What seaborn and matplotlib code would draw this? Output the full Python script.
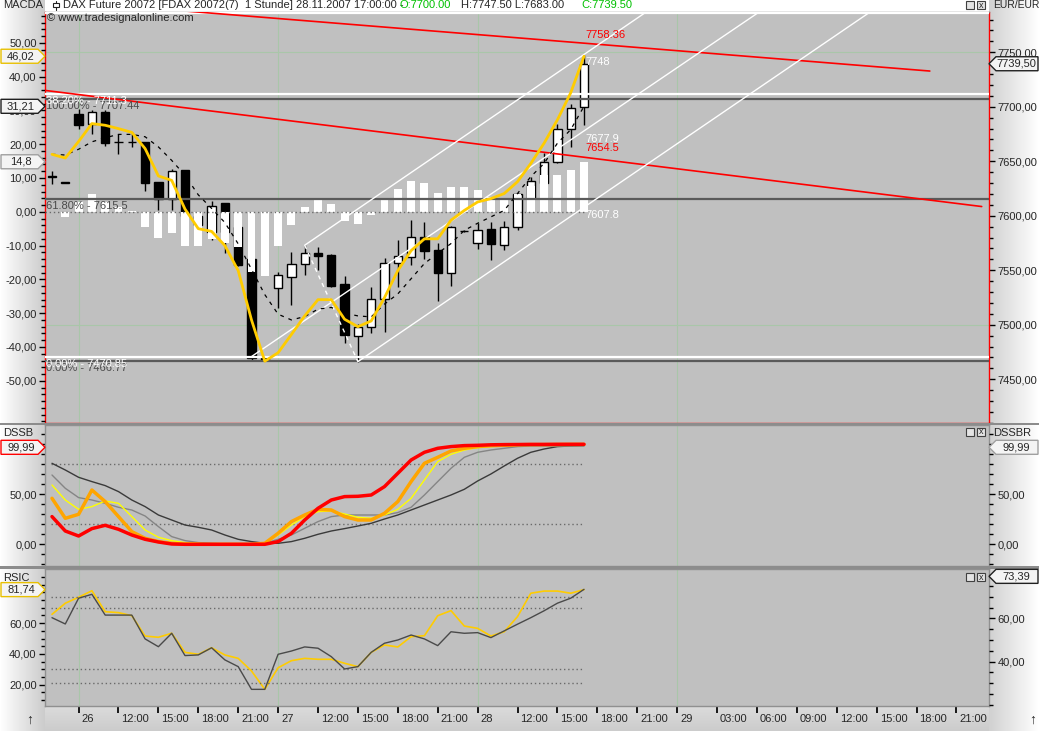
import numpy as np
import matplotlib
matplotlib.use('Agg')
import matplotlib.pyplot as plt
import matplotlib.transforms as mtransforms
from matplotlib.patches import Polygon, Rectangle
import seaborn as sns

sns.set_theme(style='white')
plt.rcParams['font.family'] = ['Liberation Sans', 'DejaVu Sans']

W, H = 1039, 731
BG = '#C0C0C0'

# hourly bars, index 0 = 25.11. 21:00
bars = list(range(41))
opens = [7636, 7630.4, 7693.7, 7684, 7695.2, 7667.7, 7667.7, 7667.7, 7631, 7615.7,
         7641.7, 7600, 7585, 7611.5, 7590, 7560, 7469.3, 7533.5, 7544, 7555.5,
         7566, 7564, 7537.4, 7489.7, 7498.3, 7523.4, 7556.4, 7562.5, 7580.3, 7568.6,
         7547.2, 7586, 7574.8, 7587.6, 7573.2, 7590, 7616, 7630, 7649.6, 7679.4, 7700]
highs = [7641, 7630.4, 7698, 7697, 7697, 7675, 7677, 7668, 7631, 7642.7,
         7642, 7603, 7613.6, 7612, 7592, 7562, 7470, 7548, 7567, 7573,
         7571.7, 7565, 7544.8, 7501, 7534.4, 7561, 7577.8, 7596, 7594, 7574.8,
         7591, 7587, 7593.7, 7594.6, 7595.5, 7621, 7636, 7658, 7684.2, 7702.6, 7747.5]
lows = [7629.5, 7630.4, 7680, 7675.3, 7664, 7657, 7663, 7622.7, 7605, 7605,
        7590, 7585, 7578, 7565.5, 7554, 7467.7, 7466.8, 7515, 7518, 7545.7,
        7550.3, 7535, 7483, 7466.2, 7492.2, 7493.7, 7535, 7554.9, 7560, 7522,
        7535.6, 7585, 7569.8, 7559.5, 7568.6, 7587, 7610, 7626.7, 7648, 7663.4, 7683]
closes = [7636, 7630.4, 7683, 7695.2, 7667, 7667.7, 7667.7, 7630.4, 7615.7, 7640.8,
          7600, 7592, 7609, 7585, 7555, 7469.3, 7467.5, 7545.7, 7555.5, 7565.6,
          7563, 7536, 7490.6, 7497.7, 7523.4, 7556.4, 7563.4, 7580.3, 7568, 7547.2,
          7590, 7586, 7587, 7574, 7590, 7620, 7632, 7649.6, 7679.4, 7698.6, 7739.5]

macd = [17.0, 15.9, 20.8, 26.1, 25.6, 24.6, 23.5, 18.7, 10.6, 9.3,
        0.8, -5.0, -5.8, -10.0, -17.4, -32.0, -44.2, -41.7, -36.3, -30.8,
        -26.0, -26.0, -31.8, -34.0, -32.3, -25.4, -17.4, -11.5, -8.0, -8.0,
        -2.5, 0.4, 2.9, 3.9, 5.4, 8.9, 14.3, 20.3, 27.2, 35.2, 46.02]
signal = [17.0, 16.8, 18.5, 20.7, 21.9, 22.9, 22.9, 22.2, 19.2, 15.2,
          10.8, 5.0, 1.0, -3.2, -9.5, -17.0, -24.5, -30.3, -32.0, -31.0,
          -28.8, -28.3, -30.0, -30.8, -31.1, -27.3, -24.3, -19.8, -15.3, -12.3,
          -9.4, -5.5, -3.4, -1.5, 0.4, 5.4, 10.4, 14.3, 20.3, 24.3, 31.21]
hist = [0.0, -1.5, 3.0, 5.3, 2.9, 1.4, 0.3, -4.5, -7.8, -6.3,
        -10.0, -10.2, -8.0, -9.3, -10.5, -17.7, -19.1, -10.2, -4.0, 1.3,
        3.7, 2.2, -2.7, -3.7, -1.0, 4.1, 6.7, 9.1, 8.5, 5.5,
        7.4, 7.4, 6.4, 4.4, 4.1, 5.2, 7.6, 11.0, 10.9, 12.4, 14.8]

dss_red = [27.7, 13.3, 8.3, 15.7, 19.0, 15.0, 9.3, 5.0, 2.3, 0.3,
           0.0, 0.0, 0.0, 0.0, 0.0, 0.0, 0.0, 2.7, 11.0, 24.3,
           36.0, 44.3, 47.7, 48.0, 49.3, 57.7, 71.0, 84.3, 92.0, 96.0,
           97.7, 98.7, 99.0, 99.5, 99.7, 99.8, 99.9, 99.9, 99.99, 99.99, 99.99]
dss_orange = [46.0, 26.0, 30.0, 54.3, 42.7, 27.7, 12.7, 6.0, 2.7, 1.0,
              0.0, 0.0, 0.0, 0.0, 0.0, 0.0, 1.0, 11.0, 22.7, 29.3,
              35.0, 34.3, 27.7, 24.3, 24.3, 31.0, 42.7, 62.7, 81.0, 87.0,
              93.3, 96.0, 97.7, 98.7, 99.0, 99.5, 99.7, 99.7, 99.8, 99.9, 99.9]
dss_yellow = [59.3, 44.3, 35.0, 37.7, 43.3, 41.0, 27.7, 14.3, 7.0, 3.7,
              1.7, 1.0, 0.0, 0.0, 0.0, 0.0, 1.0, 9.3, 19.3, 27.7,
              32.7, 33.3, 30.3, 27.0, 26.0, 29.3, 35.0, 46.0, 64.3, 82.7,
              90.0, 94.3, 96.7, 97.7, 98.3, 99.0, 99.3, 99.3, 99.3, 99.3, 99.3]
dss_gray = [69.3, 56.0, 46.7, 44.3, 41.0, 37.0, 34.3, 28.3, 17.7, 7.7,
            3.7, 1.7, 1.0, 0.3, 0.3, 0.3, 1.0, 5.0, 9.3, 16.0,
            22.7, 27.7, 29.3, 29.3, 29.3, 29.3, 31.7, 37.0, 49.3, 62.7,
            76.0, 87.0, 92.0, 94.3, 96.0, 97.7, 98.3, 98.3, 98.3, 98.3, 98.3]
dss_dark = [81.0, 74.3, 67.0, 62.7, 58.7, 52.7, 44.3, 37.7, 29.3, 24.3,
            19.3, 17.0, 14.3, 9.3, 5.0, 2.7, 1.0, 1.0, 2.7, 6.0,
            10.0, 13.3, 15.7, 18.3, 21.0, 25.3, 29.3, 34.3, 39.3, 44.3,
            49.3, 55.0, 63.3, 70.3, 78.3, 86.0, 92.0, 95.3, 97.7, 98.3, 98.7]

rsic = [65.7, 72.9, 76.8, 81.0, 67.4, 66.8, 64.8, 51.6, 50.8, 53.4,
        41.0, 39.7, 44.0, 39.3, 37.1, 28.9, 17.0, 31.0, 35.6, 37.1,
        36.5, 36.5, 33.9, 31.7, 41.0, 45.8, 44.5, 51.2, 51.8, 64.8,
        68.1, 58.1, 56.6, 51.6, 54.4, 64.2, 79.4, 80.8, 80.8, 79.4, 81.74]
rsi = [60.3, 57.4, 69.3, 71.1, 61.5, 61.5, 61.5, 50.5, 46.9, 53.1,
       42.8, 43.1, 46.4, 40.8, 37.7, 27.2, 27.2, 43.4, 44.9, 46.8,
       46.2, 42.3, 36.6, 37.7, 44.3, 48.5, 50.0, 52.3, 50.5, 47.4,
       53.8, 53.1, 53.4, 51.1, 54.2, 57.3, 60.3, 63.5, 67.0, 69.3, 73.39]

tick_bars = [2, 5, 8, 11, 14, 17, 20, 23, 26, 29, 32, 35, 38, 41, 44,
             47, 50, 53, 56, 59, 62, 65, 68]
tick_labels = ['26', '12:00', '15:00', '18:00', '21:00', '27', '12:00', '15:00',
               '18:00', '21:00', '28', '12:00', '15:00', '18:00', '21:00', '29',
               '03:00', '06:00', '09:00', '12:00', '15:00', '18:00', '21:00']
day_bars = [2, 17, 32, 47]

# fibonacci levels (two tools)
fib_white = [7470.85, 7711.3, 7785.6]
fib_white_labels = ['0.00% - 7470.85', '38.20% - 7711.3', '']
fib_gray = [7466.77, 7615.5, 7707.44]
fib_gray_labels = ['0.00% - 7466.77', '61.80% - 7615.5', '100.00% - 7707.44']

# drawn trend lines: (bar, price) anchors
red_lines = [((-0.5, 7798.2), (66.0, 7732.8)),
             ((-0.5, 7715.0), (69.9, 7608.5))]
channel_lines = [((15, 7470.85), (40, 7677.9)),
                 ((19, 7573.0), (40, 7748.0)),
                 ((23, 7466.2), (40, 7607.8))]
channel_link = ((19, 7573.0), (23, 7466.2))

level_values = [7758.36, 7748.0, 7677.9, 7654.5, 7607.8]
level_colors = ['#FF0000', 'white', 'white', '#FF0000', 'white']
level_above = [True, False, False, True, False]

X_LIM = (-0.526, 70.45)
PRICE_LIM = (7409.9, 7786.97)
MACD_LIM = (-62.49, 59.11)
DSS_LIM = (-21.7, 119.3)
RSIC_LIM = (6.17, 95.13)
RSI_LIM = (19.51, 82.79)


def pixel_box(x0, y0, x1, y1):
    return [x0 / W, 1 - y1 / H, (x1 - x0) / W, (y1 - y0) / H]


def fig_text(fig, x, y, s, **kw):
    kw.setdefault('fontsize', 8)
    kw.setdefault('va', 'center')
    fig.text(x / W, 1 - y / H, s, **kw)


def fig_rect(fig, x0, y0, x1, y1, **kw):
    fig.add_artist(Rectangle((x0 / W, 1 - y1 / H), (x1 - x0) / W,
                             (y1 - y0) / H, transform=fig.transFigure, **kw))


def comma(v):
    return f'{v:.2f}'.replace('.', ',')


def draw_background(fig):
    img = np.ones((H, W, 3))
    img[:, :45] = np.linspace(1.0, 0.80, 45)[None, :, None]
    img[:, 989:] = np.linspace(0.82, 1.0, W - 989)[None, :, None]
    img[706:, 45:989] = np.linspace(0.86, 0.80, H - 706)[:, None, None]
    ax = fig.add_axes([0, 0, 1, 1])
    ax.imshow(img, extent=(0, W, H, 0), aspect='auto')
    ax.set_xlim(0, W)
    ax.set_ylim(H, 0)
    ax.set_axis_off()


def style_panel(ax, spine_color):
    ax.set_facecolor(BG)
    ax.set_xlim(*X_LIM)
    for side in ['left', 'right', 'bottom', 'top']:
        ax.spines[side].set_color(spine_color)
        ax.spines[side].set_linewidth(1)
    ax.tick_params(axis='x', bottom=False, labelbottom=False)
    for b in day_bars:
        ax.axvline(b, color='#A9C6A9', lw=0.8, zorder=0.5)


def set_side_ticks(ax, side, major, minor):
    if side == 'left':
        ax.yaxis.tick_left()
        ax.yaxis.set_label_position('left')
    else:
        ax.yaxis.tick_right()
        ax.yaxis.set_label_position('right')
    ax.set_yticks(major)
    ax.set_yticklabels([comma(v) for v in major])
    ax.set_yticks(minor, minor=True)
    ax.tick_params(axis='y', which='both', direction='out', color='black',
                   labelsize=8, pad=2, width=1)
    ax.tick_params(axis='y', which='major', length=4)
    ax.tick_params(axis='y', which='minor', length=3)
    ax.set_ylabel('')


def hide_spines(ax):
    ax.patch.set_visible(False)
    for side in ax.spines:
        ax.spines[side].set_visible(False)
    ax.set_xlim(*X_LIM)
    ax.tick_params(axis='x', bottom=False, labelbottom=False)


def value_tag(fig, ax, x, value, text, side, edge, shift=0):
    disp = ax.transData.transform((x, value))
    y = H - disp[1] + shift
    if side == 'left':
        pts = [(1, y - 7), (38, y - 7), (45, y), (38, y + 7), (1, y + 7)]
        tx = 21
    else:
        pts = [(989, y), (996, y - 7), (1038, y - 7), (1038, y + 7), (996, y + 7)]
        tx = 1016
    poly = Polygon([(px / W, 1 - py / H) for px, py in pts], closed=True,
                   transform=fig.transFigure, fc='#F4F4F4', ec=edge, lw=1,
                   zorder=10)
    fig.add_artist(poly)
    fig_text(fig, tx, y, text, ha='center', zorder=11)


def window_icons(fig, y):
    for x in [966, 977]:
        fig_rect(fig, x, y, x + 8, y + 8, fc='#E4E4E4', ec='#404040',
                 lw=0.8, zorder=10)
    fig_text(fig, 981, y + 4, 'x', ha='center', fontsize=6.5, zorder=11)


def draw_candles(ax):
    o = np.array(opens)
    c = np.array(closes)
    ax.vlines(bars, lows, highs, color='black', lw=1, zorder=2)
    bottom = np.minimum(o, c)
    height = np.maximum(np.abs(c - o), 0.4)
    colors = ['white' if cc >= oo else 'black' for oo, cc in zip(o, c)]
    ax.bar(bars, height, bottom=bottom, width=0.62, color=colors,
           edgecolor='black', lw=1, zorder=3)


def main_panel(fig):
    ax_p = fig.add_axes(pixel_box(45, 12, 989, 423))
    style_panel(ax_p, '#FF0000')
    ax_p.spines['top'].set_color('#808080')
    ax_p.set_ylim(*PRICE_LIM)
    for lvl in [7500, 7750]:
        ax_p.axhline(lvl, color='#A9C6A9', lw=0.8, zorder=0.5)
    draw_candles(ax_p)

    ax_m = ax_p.twinx()
    hide_spines(ax_m)
    ax_m.set_ylim(*MACD_LIM)
    # twinx moves the price ticks, so sides are set afterwards
    set_side_ticks(ax_p, 'right', list(range(7450, 7751, 50)),
                   list(range(7410, 7790, 10)))
    set_side_ticks(ax_m, 'left', list(range(-50, 51, 10)),
                   list(range(-62, 60, 2)))

    ax_m.bar(bars, hist, width=0.6, color='white', lw=0, zorder=2)
    ax_m.plot([X_LIM[0], bars[-1]], [0, 0], color='#6A6A6A', lw=1,
              ls=(0, (1, 2)), zorder=2.5)

    pt = ax_p.transData
    left_edge = mtransforms.blended_transform_factory(ax_p.transAxes, pt)
    for val, lab in zip(fib_gray, fib_gray_labels):
        ax_m.plot(X_LIM, [val, val], color='#5A5A5A', lw=1.6,
                  transform=pt, zorder=3)
        ax_m.annotate(lab, (0, val), xycoords=left_edge, xytext=(1, -2),
                      textcoords='offset pixels', ha='left', va='top',
                      fontsize=8, color='#4A4A4A', zorder=6)
    for val, lab in zip(fib_white, fib_white_labels):
        ax_m.plot(X_LIM, [val, val], color='white', lw=1.6,
                  transform=pt, zorder=3)
        ax_m.annotate(lab, (0, val), xycoords=left_edge, xytext=(1, -2),
                      textcoords='offset pixels', ha='left', va='top',
                      fontsize=8, color='white', zorder=6)

    for (x0, y0), (x1, y1) in red_lines:
        ax_m.plot([x0, x1], [y0, y1], color='#FF0000', lw=1.2,
                  transform=pt, zorder=3)
    for (x0, y0), (x1, y1) in channel_lines:
        slope = (y1 - y0) / (x1 - x0)
        xe = X_LIM[1] + 1
        ax_m.plot([x0, xe], [y0, y0 + slope * (xe - x0)], color='white',
                  lw=1, transform=pt, zorder=3)
    (x0, y0), (x1, y1) = channel_link
    ax_m.plot([x0, x1], [y0, y1], color='white', lw=1, ls=(0, (3, 3)),
              transform=pt, zorder=3)

    sns.lineplot(x=bars, y=signal, ax=ax_m, color='black', lw=0.9,
                 linestyle=(0, (3, 4)), zorder=4)
    sns.lineplot(x=bars, y=macd, ax=ax_m, color='#FFCC00', lw=2, zorder=5)

    for val, col, above in zip(level_values, level_colors, level_above):
        ax_m.annotate(f'{val:g}', (bars[-1], val), xycoords=pt,
                      xytext=(1, 3 if above else -3),
                      textcoords='offset pixels', ha='left',
                      va='bottom' if above else 'top', fontsize=8,
                      color=col, zorder=6)
    ax_m.set_xlabel('')
    ax_m.set_ylabel('')
    return ax_p, ax_m


def dss_panel(fig):
    ax = fig.add_axes(pixel_box(45, 425, 989, 566))
    style_panel(ax, '#909090')
    ax.set_ylim(*DSS_LIM)
    ax2 = ax.twinx()
    hide_spines(ax2)
    ax2.set_ylim(*DSS_LIM)
    set_side_ticks(ax, 'left', [0, 50], list(range(-20, 120, 10)))
    set_side_ticks(ax2, 'right', [0, 50], list(range(-20, 120, 10)))

    for lvl in [20, 80]:
        ax.plot([-0.08, bars[-1]], [lvl, lvl], color='#6A6A6A', lw=1,
                ls=(0, (1, 2)), zorder=1)
    sns.lineplot(x=bars, y=dss_dark, ax=ax, color='#3A3A3A', lw=1)
    sns.lineplot(x=bars, y=dss_gray, ax=ax, color='#858585', lw=1)
    sns.lineplot(x=bars, y=dss_yellow, ax=ax, color='#FFFF00', lw=1)
    sns.lineplot(x=bars, y=dss_orange, ax=ax, color='#FFA500', lw=2.5)
    sns.lineplot(x=bars, y=dss_red, ax=ax, color='#FF0000', lw=2.5)
    ax.set_xlabel('')
    ax.set_ylabel('')
    return ax, ax2


def rsi_panel(fig):
    ax = fig.add_axes(pixel_box(45, 569, 989, 706))
    style_panel(ax, '#909090')
    ax.set_ylim(*RSIC_LIM)
    ax2 = ax.twinx()
    hide_spines(ax2)
    ax2.set_ylim(*RSI_LIM)
    set_side_ticks(ax, 'left', [20, 40, 60], list(range(10, 95, 5)))
    set_side_ticks(ax2, 'right', [40, 60], list(range(20, 85, 5)))

    for lvl in [30, 70]:
        ax.plot([-0.08, bars[-1]], [lvl, lvl], color='#6A6A6A', lw=1,
                ls=(0, (1, 2)), zorder=1)
        ax2.plot([-0.08, bars[-1]], [lvl, lvl], color='#6A6A6A', lw=1,
                 ls=(0, (1, 2)), zorder=1)
    sns.lineplot(x=bars, y=rsi, ax=ax2, color='#4A4A4A', lw=1)
    sns.lineplot(x=bars, y=rsic, ax=ax, color='#FFCC00', lw=1.2)
    ax.set_xlabel('')
    ax.set_ylabel('')
    ax2.set_ylabel('')

    ax.tick_params(axis='x', bottom=True, labelbottom=True, direction='out',
                   length=5, color='black', labelsize=8, pad=1)
    ax.set_xticks(tick_bars)
    ax.set_xticklabels(tick_labels)
    offset = mtransforms.ScaledTranslation(3 / 100, 0, fig.dpi_scale_trans)
    for lbl in ax.get_xticklabels():
        lbl.set_horizontalalignment('left')
        lbl.set_transform(lbl.get_transform() + offset)
    return ax, ax2


def main():
    fig = plt.figure(figsize=(W / 100, H / 100), dpi=100)
    draw_background(fig)
    ax_p, ax_m = main_panel(fig)
    ax_d, ax_d2 = dss_panel(fig)
    ax_r, ax_r2 = rsi_panel(fig)

    for y0, y1 in [(423, 425), (566, 569)]:
        fig_rect(fig, 0, y0, W, y1, fc='#8C8C8C', lw=0, zorder=1)

    # header texts
    fig_text(fig, 3, 5, 'MACDA')
    fig.add_artist(plt.Line2D([56 / W, 56 / W], [1 - 1 / H, 1 - 10 / H],
                              transform=fig.transFigure, color='#202020',
                              lw=0.8, zorder=10))
    fig_rect(fig, 53, 3, 59, 7, fc='white', ec='#202020', lw=0.8, zorder=11)
    fig_text(fig, 63, 5, 'DAX Future 20072 [FDAX 20072(7)  1 Stunde] '
             '28.11.2007 17:00:00 -')
    fig_text(fig, 400, 5, 'O:7700.00', color='#00C000')
    fig_text(fig, 461, 5, 'H:7747.50 L:7683.00')
    fig_text(fig, 581, 5, 'C:7739.50', color='#00C000')
    fig_text(fig, 993, 5, 'EUR/EUR', fontsize=7.5)
    fig_text(fig, 47, 18, '\u00a9 www.tradesignalonline.com', zorder=11)
    fig_text(fig, 3, 433, 'DSSB')
    fig_text(fig, 993, 433, 'DSSBR')
    fig_text(fig, 3, 578, 'RSIC')
    fig_text(fig, 993, 578, 'RSI')
    fig_text(fig, 30, 720, '\u2191', ha='center', fontsize=10)
    fig_text(fig, 1033, 720, '\u2191', ha='center', fontsize=10)
    for y in [1, 428, 573]:
        window_icons(fig, y)

    # last value tags on the axes
    last = bars[-1]
    value_tag(fig, ax_m, last, macd[-1], comma(macd[-1]), 'left', '#E8C000')
    value_tag(fig, ax_m, last, signal[-1], comma(signal[-1]), 'left', '#202020')
    value_tag(fig, ax_m, last, hist[-1], f'{hist[-1]:g}'.replace('.', ','),
              'left', '#A0A0A0')
    value_tag(fig, ax_p, last, closes[-1], comma(closes[-1]), 'right', '#202020')
    value_tag(fig, ax_d, last, dss_red[-1], comma(dss_red[-1]), 'left', '#FF0000',
              shift=3)
    value_tag(fig, ax_d, last, dss_red[-1], comma(dss_red[-1]), 'right', '#A0A0A0',
              shift=3)
    value_tag(fig, ax_r, last, rsic[-1], comma(rsic[-1]), 'left', '#E8C000')
    value_tag(fig, ax_r2, last, rsi[-1], comma(rsi[-1]), 'right', '#202020',
              shift=-13)

    fig.savefig('out.png', dpi=100)


if __name__ == '__main__':
    main()
